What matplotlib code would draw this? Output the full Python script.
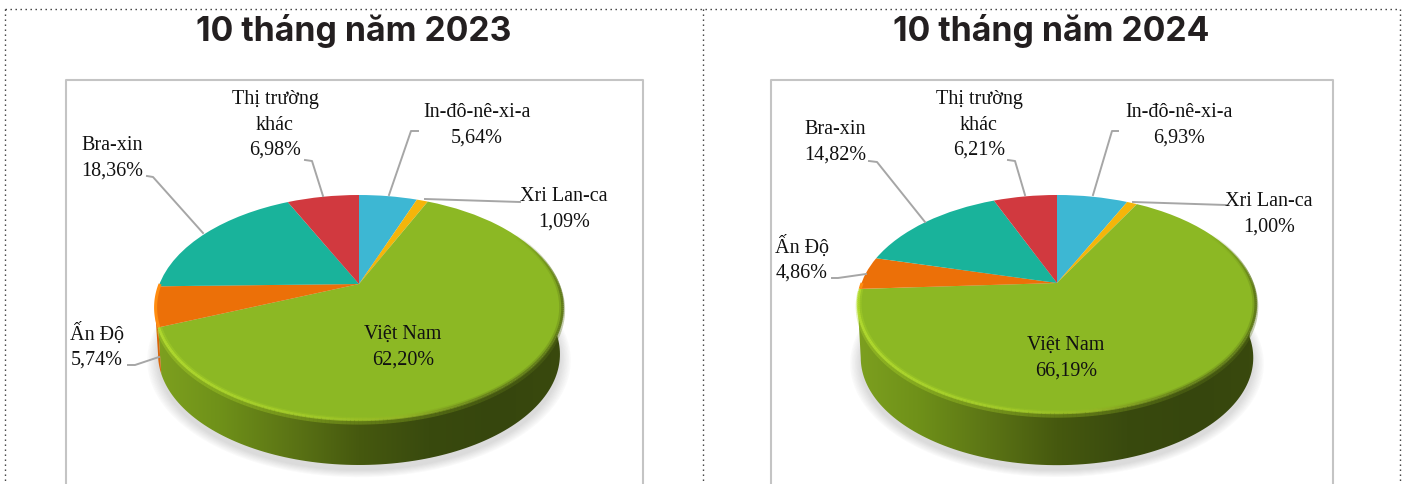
import numpy as np
import matplotlib
matplotlib.use('Agg')
import matplotlib.pyplot as plt
import matplotlib.transforms as mtransforms
from matplotlib.collections import LineCollection
from matplotlib.colors import LinearSegmentedColormap
from matplotlib.patches import Polygon

# data
titles = ['10 tháng năm 2023', '10 tháng năm 2024']
names = ['In-đô-nê-xi-a', 'Xri Lan-ca', 'Việt Nam', 'Ấn Độ', 'Bra-xin', 'Thị trường\nkhác']
values_2023 = [5.64, 1.09, 62.20, 5.74, 18.36, 6.98]
values_2024 = [6.93, 1.00, 66.19, 4.86, 14.82, 6.21]
colors = ['#3db7d3', '#f5b50a', '#8cb824', '#ec7008', '#19b39b', '#d1393f']

# layout, in pixels of the picture
geo_2023 = dict(cx=359, cy=284, R=199.5, S=107.6, k=0.209)
geo_2024 = dict(cx=1057, cy=283, R=195.5, S=105, k=0.193)
depth_2023 = 47
depth_2024 = 54
frame_2023 = (66, 643)
frame_2024 = (771, 1333)
title_x = [354, 1051]
label_pos_2023 = [(477, 125), (564, 209), (403, 347), (97, 346), (112, 158), (275, 125)]
label_pos_2024 = [(1179, 125), (1269, 214), (1066, 358), (802, 259), (835, 142), (979, 125)]
leaders_2023 = [[(418, 131), (411, 131), (389, 195)],
                [(520, 202), (425, 199)],
                None,
                [(128, 365), (135, 365), (159, 357)],
                [(147, 176), (153, 177), (203, 233)],
                [(305, 160), (312, 161), (323, 196)]]
leaders_2024 = [[(1118, 131), (1112, 131), (1093, 195)],
                [(1226, 205), (1133, 202)],
                None,
                [(832, 278), (838, 278), (866, 274)],
                [(869, 161), (877, 162), (925, 222)],
                [(1008, 160), (1015, 161), (1025, 195)]]


class Persp(mtransforms.Transform):
    # unit circle -> tilted disc in pixel coords, the apex sits above the ellipse centre
    input_dims = 2
    output_dims = 2
    is_separable = False

    def __init__(self, cx, cy, R, S, k, dy=0, scale=1.0):
        super().__init__()
        self.cx, self.cy, self.R, self.S, self.k = cx, cy, R, S, k
        self.dy = dy
        self.scale = scale

    def transform_non_affine(self, xy):
        xy = np.asarray(xy, dtype=float)
        w = 1 + self.k * xy[:, 1]
        x = self.cx + self.scale * self.R * xy[:, 0] / w
        y = self.cy - self.scale * self.S * xy[:, 1] / w + self.dy
        return np.column_stack([x, y])


def arc(t1, t2, n=120):
    t = np.radians(np.linspace(t1, t2, n))
    return np.column_stack([np.cos(t), np.sin(t)])


wall_cmap = LinearSegmentedColormap.from_list('wall', ['#7fa220', '#6f9119', '#5c7515', '#46590f', '#394a0e', '#36460d', '#3a4a0e'])
rim_cmap = LinearSegmentedColormap.from_list('rim', ['#b4dd2e', '#aad42a', '#a2ca28', '#93b524', '#66801a', '#5b7318'])

fig = plt.figure(figsize=(14.03, 4.84), dpi=100)
ax = fig.add_axes([0, 0, 1, 1])


def rim_band(geo, start, scale, dy, width, alpha, zorder):
    # one stroke of the bevel, fades out towards the top right
    theta = np.linspace(start, 30, 200)
    rim = Persp(**geo, scale=scale, dy=dy).transform_non_affine(arc(start, 30, 200))
    segs = np.stack([rim[:-1], rim[1:]], axis=1)
    frac = (rim[:-1, 0] - rim[:, 0].min()) / (rim[:, 0].max() - rim[:, 0].min())
    cols = rim_cmap(frac)
    cols[:, 3] = alpha * np.clip((30 - theta[:-1]) / 35, 0, 1)
    ax.add_collection(LineCollection(segs, colors=cols, linewidths=width, zorder=zorder))


def draw_pie(values, geo, depth, frame, title, tx, label_pos, leaders):
    top = Persp(**geo)
    bottom = Persp(**geo, dy=depth, scale=0.985)

    # angle of each slice, clockwise from 12 o'clock like the pie call below
    edges = np.cumsum([0] + list(values)) / np.sum(values) * 360
    vn_start = 90 - edges[3]
    # the wall only shows below the widest point of the tilted disc
    edge_angle = -180 + np.degrees(np.arcsin(geo['k']))
    wall_start = max(vn_start, edge_angle)

    # soft shadow
    ring = arc(0, 360)
    for i in range(7):
        sh = Persp(**geo, dy=depth + 5, scale=0.99 + i * 0.008)
        ax.add_patch(Polygon(sh.transform_non_affine(ring), closed=True, fc='#6e6e6e', ec='none', alpha=0.035, zorder=0.5))

    # side wall, green slice gets the light gradient
    poly = np.vstack([top.transform_non_affine(arc(wall_start, 0)), bottom.transform_non_affine(arc(0, wall_start))])
    wall = Polygon(poly, closed=True, fc='none', ec='none')
    ax.add_patch(wall)
    im = ax.imshow(np.linspace(0, 1, 256).reshape(1, -1), cmap=wall_cmap, aspect='auto',
                   extent=(geo['cx'] - 210, geo['cx'] + 210, 490, 190), zorder=1)
    im.set_clip_path(wall)

    # orange slice wall
    if vn_start > edge_angle:
        arc_t = arc(edge_angle, vn_start)
        poly2 = np.vstack([top.transform_non_affine(arc_t), bottom.transform_non_affine(arc_t[::-1])])
        ax.fill(poly2[:, 0], poly2[:, 1], color='#d9650a', lw=0, zorder=1.2)

    # top face
    ax.pie(values, colors=colors, startangle=90, counterclock=False, radius=1,
           wedgeprops=dict(transform=top + ax.transData, zorder=3, lw=0))

    # bevel on the rim of the green slice
    rim_band(geo, vn_start, 1.0, 2.5, 3.0, 0.35, 2.9)
    rim_band(geo, vn_start, 0.998, 0, 2.0, 0.85, 3.2)
    rim_band(geo, vn_start, 0.988, 0, 2.0, 0.3, 3.1)
    rim2 = Persp(**geo, scale=0.997).transform_non_affine(arc(-180, vn_start, 30))
    ax.plot(rim2[:, 0], rim2[:, 1], color='#ff8c10', lw=2.2, zorder=3.3, solid_capstyle='butt')

    # frame
    ax.plot([frame[0], frame[0], frame[1], frame[1]], [490, 80, 80, 490], color='#c4c4c4', lw=1.5, zorder=2)

    ax.text(tx, 31.5, title, ha='center', va='center', fontsize=24.3, fontweight='bold', family='Inter', color='#231f20')

    for name, v, pos, lead in zip(names, values, label_pos, leaders):
        s = name + '\n' + f'{v:.2f}'.replace('.', ',') + '%'
        ax.text(pos[0], pos[1], s, ha='center', va='center', fontsize=14.5, family='Liberation Serif',
                color='#111111', linespacing=1.44, zorder=6)
        if lead is not None:
            p = np.array(lead)
            ax.plot(p[:, 0], p[:, 1], color='#a6a6a6', lw=1.4, zorder=5)


draw_pie(values_2023, geo_2023, depth_2023, frame_2023, titles[0], title_x[0], label_pos_2023, leaders_2023)
draw_pie(values_2024, geo_2024, depth_2024, frame_2024, titles[1], title_x[1], label_pos_2024, leaders_2024)

# dotted outer box
dots = (0, (1, 2.6))
for xs, ys in [([5, 1400], [9, 9]), ([5, 5], [9, 490]), ([703, 703], [9, 490]), ([1400, 1400], [9, 490])]:
    ax.plot(xs, ys, color='#333333', lw=1.0, ls=dots, zorder=2)

ax.set_aspect('auto')
ax.set_xlim(0, 1403)
ax.set_ylim(484, 0)
ax.set_axis_off()
fig.savefig('out.png', dpi=100)
